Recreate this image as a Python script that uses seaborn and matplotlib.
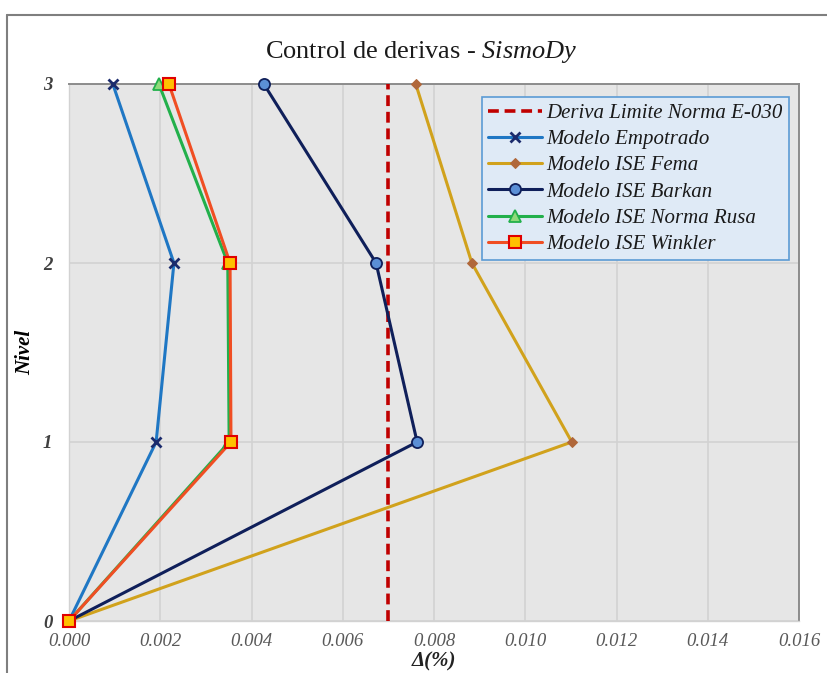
import matplotlib
matplotlib.use("Agg")
import matplotlib.pyplot as plt
import seaborn as sns
import numpy as np
from matplotlib.lines import Line2D

sns.set_theme(style="white")
plt.rcParams['font.family'] = ['Liberation Serif', 'DejaVu Serif']
plt.rcParams['mathtext.fontset'] = 'custom'
plt.rcParams['mathtext.rm'] = 'Liberation Serif'
plt.rcParams['mathtext.it'] = 'Liberation Serif:italic'

levels = [0, 1, 2, 3]
limit_value = 0.007
empotrado = [0.0, 0.00191, 0.00230, 0.00096]
fema = [0.0, 0.01102, 0.00883, 0.00760]
barkan = [0.0, 0.00763, 0.00673, 0.00427]
norma_rusa = [0.0, 0.00351, 0.00348, 0.00197]
winkler = [0.0, 0.00355, 0.00353, 0.00219]
x_ticks = [0.000, 0.002, 0.004, 0.006, 0.008, 0.010, 0.012, 0.014, 0.016]
y_ticks = [0, 1, 2, 3]

fig = plt.figure(figsize=(8.27, 6.73), dpi=100)
fig.patch.set_facecolor('white')
ax = fig.add_axes([69/827, 1-621/673, (799-69)/827, (621-84)/673])
ax.set_facecolor('#e6e6e6')

# outer frame lines
fig.add_artist(Line2D([7/827, 7/827], [0, 1-15/673], transform=fig.transFigure, color='#7f7f7f', lw=1.5))
fig.add_artist(Line2D([7/827, 1], [1-15/673, 1-15/673], transform=fig.transFigure, color='#7f7f7f', lw=1.5))

ax.axvline(limit_value, color='#c00000', lw=2.6, ls=(0, (3, 1.6)), label='Deriva Limite Norma E-030', zorder=3)

series = [
    ("Modelo Empotrado", empotrado, dict(color='#1f77c4', marker='x', markersize=7, markeredgewidth=2,
                                          markeredgecolor='#1a2a6c')),
    ("Modelo ISE Fema", fema, dict(color='#d1a21c', marker='D', markersize=5, markerfacecolor='#b0673a',
                                    markeredgecolor='#b0673a')),
    ("Modelo ISE Barkan", barkan, dict(color='#0f1f5a', marker='o', markersize=8, markerfacecolor='#5b8fd6',
                                        markeredgecolor='#0f1f5a', markeredgewidth=1.3)),
    ("Modelo ISE Norma Rusa", norma_rusa, dict(color='#22b04b', marker='^', markersize=8,
                                                markerfacecolor='#8fd97a', markeredgecolor='#22b04b',
                                                markeredgewidth=1.3)),
    ("Modelo ISE Winkler", winkler, dict(color='#f04e23', marker='s', markersize=8, markerfacecolor='#ffc000',
                                          markeredgecolor='#e00000', markeredgewidth=1.5)),
]
for name, vals, style in series:
    sns.lineplot(x=vals, y=levels, orient='y', sort=False, ax=ax, label=name, lw=2.2,
                 clip_on=False, zorder=4, **style)

ax.set_xlim(0, 0.016)
ax.set_ylim(0, 3)
ax.set_xticks(x_ticks)
ax.set_xticklabels([f"{t:.3f}" for t in x_ticks], fontstyle='italic', color='#595959', fontsize=13.5)
ax.set_yticks(y_ticks)
ax.set_yticklabels([str(t) for t in y_ticks], fontstyle='italic', fontweight='bold', color='#404040', fontsize=13.5)
ax.tick_params(axis='x', length=0, pad=9)
ax.tick_params(axis='y', length=0, pad=12)
ax.grid(True, color='#d2d2d2', lw=1.2)
ax.set_axisbelow(True)
for s in ['top', 'right']:
    ax.spines[s].set_color('#8c8c8c')
    ax.spines[s].set_linewidth(1.4)
for s in ['left', 'bottom']:
    ax.spines[s].set_color('#d2d2d2')
    ax.spines[s].set_linewidth(1.0)

ax.set_ylabel('Nivel', fontstyle='italic', fontweight='bold', fontsize=15, color='black')
ax.yaxis.set_label_coords(-(69-35)/730, 0.5)
fig.text(434/827, 1-661/673, 'Δ(%)', ha='center', va='center', fontstyle='italic', fontweight='bold',
         fontsize=15, color='#222222')

fig.text(421/827, 1-52/673, 'Control de derivas - $\\it{SismoDy}$', ha='center', va='center',
         fontsize=19, color='#1a1a1a')

leg = ax.legend(loc='upper right', bbox_to_anchor=(720/730, 1-13/537), frameon=True, fancybox=False,
                prop={'family': 'Liberation Serif', 'style': 'italic', 'size': 15},
                handlelength=2.6, handletextpad=0.2, labelspacing=0.32, borderpad=0.3, borderaxespad=0)
leg.get_frame().set_facecolor('#dfeaf6')
leg.get_frame().set_edgecolor('#5b9bd5')
leg.get_frame().set_alpha(1)
leg.get_frame().set_linewidth(1.2)
for t in leg.get_texts():
    t.set_color('#1a1a1a')

fig.savefig('out.png', dpi=100)
